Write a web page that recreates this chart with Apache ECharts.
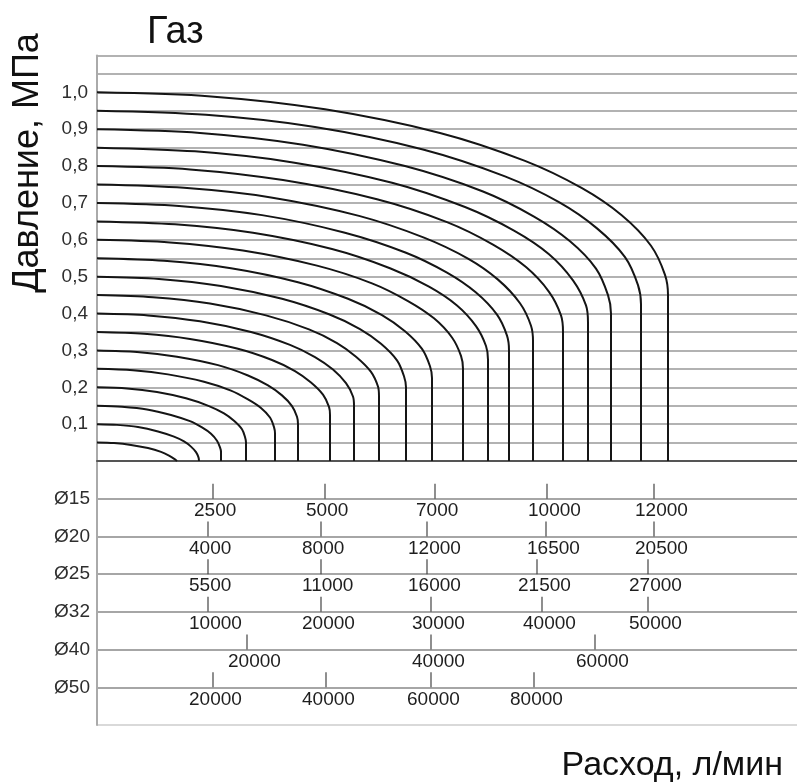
<!DOCTYPE html>
<html>
<head>
<meta charset="utf-8">
<script src="https://cdn.jsdelivr.net/npm/echarts@6/dist/echarts.min.js"></script>
<style>html,body{margin:0;padding:0;background:#fff}#c{width:797px;height:783px}</style>
</head>
<body>
<div id="c"></div>
<script>
// ---- Data (flow in chart scale units, pressure in MPa) ----
const c005 = [[0,0.05],[17,0.0485],[34,0.0437],[51,0.035],[64,0.0246],[72,0.0145],[78,0.0044],[80,0]];
const c010 = [[0,0.1],[20,0.098],[41,0.092],[61,0.08],[77,0.066],[87,0.053],[94,0.039],[99,0.024],[101.5,0.01],[102,0]];
const c015 = [[0,0.15],[25,0.147],[50,0.14],[74,0.125],[93,0.108],[105,0.091],[114,0.074],[120,0.055],[123,0.037],[124,0.025],[124,0]];
const c020 = [[0,0.2],[30,0.197],[60,0.187],[89,0.17],[112,0.149],[127,0.129],[137,0.109],[145,0.086],[148,0.065],[149,0.05],[149,0]];
const c025 = [[0,0.25],[36,0.246],[71,0.235],[107,0.215],[134,0.191],[151,0.167],[164,0.144],[173,0.118],[177,0.092],[178,0.075],[178,0]];
const c030 = [[0,0.3],[40,0.296],[80,0.283],[121,0.26],[151,0.232],[171,0.205],[185,0.178],[195,0.149],[200,0.12],[201,0.1],[201,0]];
const c035 = [[0,0.35],[47,0.345],[93,0.331],[140,0.305],[175,0.274],[198,0.244],[214,0.213],[226,0.18],[232,0.147],[233,0.125],[233,0]];
const c040 = [[0,0.4],[51,0.395],[103,0.379],[154,0.35],[193,0.315],[218,0.282],[236,0.248],[249,0.211],[256,0.175],[257,0.15],[257,0]];
const c045 = [[0,0.45],[56,0.444],[113,0.427],[169,0.395],[212,0.357],[240,0.32],[259,0.283],[274,0.242],[281,0.202],[282,0.175],[282,0]];
const c050 = [[0,0.5],[62,0.494],[124,0.475],[185,0.44],[232,0.398],[263,0.358],[284,0.318],[300,0.273],[307,0.23],[309,0.2],[309,0]];
const c055 = [[0,0.55],[67,0.543],[134,0.523],[201,0.485],[251,0.44],[285,0.396],[308,0.352],[325,0.304],[333,0.257],[335,0.225],[335,0]];
const c060 = [[0,0.6],[73,0.593],[146,0.571],[220,0.53],[275,0.482],[311,0.434],[337,0.387],[355,0.335],[364,0.285],[366,0.25],[366,0]];
const c065 = [[0,0.65],[78,0.642],[156,0.619],[235,0.575],[293,0.523],[332,0.473],[360,0.422],[379,0.366],[389,0.312],[391,0.275],[391,0]];
const c070 = [[0,0.7],[82,0.692],[165,0.667],[247,0.62],[309,0.565],[350,0.511],[379,0.457],[400,0.397],[410,0.34],[412,0.3],[412,0]];
const c075 = [[0,0.75],[87,0.741],[174,0.715],[262,0.665],[327,0.606],[371,0.549],[401,0.492],[423,0.428],[434,0.367],[436,0.325],[436,0]];
const c080 = [[0,0.8],[93,0.791],[186,0.762],[280,0.71],[350,0.648],[396,0.587],[429,0.526],[452,0.459],[464,0.395],[466,0.35],[466,0]];
const c085 = [[0,0.85],[98,0.84],[196,0.81],[295,0.755],[368,0.689],[417,0.625],[452,0.561],[476,0.49],[489,0.422],[491,0.375],[491,0]];
const c090 = [[0,0.9],[103,0.89],[206,0.858],[308,0.8],[386,0.731],[437,0.663],[473,0.596],[499,0.522],[511,0.45],[514,0.4],[514,0]];
const c095 = [[0,0.95],[109,0.939],[218,0.906],[326,0.845],[408,0.772],[462,0.702],[500,0.631],[528,0.553],[541,0.477],[544,0.425],[544,0]];
const c100 = [[0,1.0],[114,0.989],[228,0.954],[343,0.89],[428,0.814],[485,0.74],[525,0.666],[554,0.584],[568,0.505],[571,0.45],[571,0]];

const pressureTicks = [0.1,0.2,0.3,0.4,0.5,0.6,0.7,0.8,0.9,1.0];
const pressureLabels = ['0,1','0,2','0,3','0,4','0,5','0,6','0,7','0,8','0,9','1,0'];

const diameters = ['Ø15','Ø20','Ø25','Ø32','Ø40','Ø50'];
// positions on the common flow scale and flow values (l/min) per pipe diameter
const d15Pos = [116,228,338,450,557], d15Flow = [2500,5000,7000,10000,12000];
const d20Pos = [111,224,330,449,557], d20Flow = [4000,8000,12000,16500,20500];
const d25Pos = [111,224,330,440,551], d25Flow = [5500,11000,16000,21500,27000];
const d32Pos = [111,224,334,445,551], d32Flow = [10000,20000,30000,40000,50000];
const d40Pos = [150,334,498],         d40Flow = [20000,40000,60000];
const d50Pos = [116,229,334,437],     d50Flow = [20000,40000,60000,80000];

// ---- Build ----
const curves = [c005,c010,c015,c020,c025,c030,c035,c040,c045,c050,c055,c060,c065,c070,c075,c080,c085,c090,c095,c100];
const rowsPos = [d15Pos,d20Pos,d25Pos,d32Pos,d40Pos,d50Pos];
const rowsFlow = [d15Flow,d20Flow,d25Flow,d32Flow,d40Flow,d50Flow];
const scaleData = [];
rowsPos.forEach((pos, r) => pos.forEach((x, i) => scaleData.push([x, r + 1, rowsFlow[r][i]])));
const labelDx = [-19,-19,-19,-19,-19,-24];

const FONT = '"Liberation Sans", Arial, sans-serif';
const chart = echarts.init(document.getElementById('c'), null, {renderer:'canvas'});

const series = curves.map(c => ({
  type:'line', xAxisIndex:0, yAxisIndex:0, data:c, smooth:0.3, showSymbol:false, symbol:'none',
  silent:true, lineStyle:{color:'#151515', width:2}, animation:false
}));
series.push({
  type:'custom', xAxisIndex:1, yAxisIndex:1, data:scaleData, silent:true, animation:false,
  renderItem(params, api){
    const x = api.value(0), row = api.value(1), flow = api.value(2);
    const p = api.coord([x, row]);
    return {type:'group', children:[
      {type:'line', shape:{x1:p[0], y1:p[1]-15, x2:p[0], y2:p[1]}, style:{stroke:'#444', lineWidth:1.2}},
      {type:'text', x:p[0]+labelDx[row-1], y:p[1]+12,
        style:{text:String(flow), fill:'#1e1e1e', fontSize:19, fontFamily:FONT,
          align:'left', verticalAlign:'middle', textAlign:'left', textVerticalAlign:'middle'}}
    ]};
  }
});

chart.setOption({
  animation:false,
  backgroundColor:'#fff',
  title:{text:'Газ', left:142, top:9, textStyle:{fontSize:38, fontWeight:'normal', color:'#111', fontFamily:FONT}},
  grid:[
    {left:97, right:0, top:55.5, height:405.5},
    {left:97, right:0, top:461, height:264}
  ],
  xAxis:[
    {gridIndex:0, type:'value', min:0, max:700, axisLabel:{show:false}, axisTick:{show:false}, splitLine:{show:false},
      axisLine:{show:true, lineStyle:{color:'#555', width:2}}},
    {gridIndex:1, type:'value', min:0, max:700, show:false}
  ],
  yAxis:[
    {gridIndex:0, type:'value', min:0, max:1.1, interval:0.05,
      axisLine:{show:true, lineStyle:{color:'#aaa', width:2}}, axisTick:{show:false},
      splitLine:{show:true, lineStyle:{color:'#999', width:1.5}},
      axisLabel:{margin:9, fontSize:19, color:'#2e2e2e', fontFamily:FONT,
        formatter:v => { const i = pressureTicks.findIndex(t => Math.abs(t - v) < 1e-6); return i >= 0 ? pressureLabels[i] : ''; }}},
    {gridIndex:1, type:'value', min:0, max:7, interval:1, inverse:true,
      axisLine:{show:true, lineStyle:{color:'#aaa', width:2}}, axisTick:{show:false},
      splitLine:{show:true, lineStyle:{color:['#555','#888','#888','#888','#888','#888','#888','#ccc'], width:1.5}},
      axisLabel:{margin:7, fontSize:19, color:'#2e2e2e', fontFamily:FONT,
        formatter:v => (v >= 1 && v <= 6) ? diameters[v-1] : ''}}
  ],
  graphic:[
    {type:'text', x:28, y:163, rotation:Math.PI/2, silent:true,
      style:{text:'Давление, МПа', fill:'#111', fontSize:36, fontFamily:FONT,
        align:'center', verticalAlign:'middle', textAlign:'center', textVerticalAlign:'middle'}},
    {type:'text', x:783, y:766, silent:true,
      style:{text:'Расход, л/мин', fill:'#111', fontSize:34, fontFamily:FONT,
        align:'right', verticalAlign:'middle', textAlign:'right', textVerticalAlign:'middle'}}
  ],
  series
});
</script>
</body>
</html>
